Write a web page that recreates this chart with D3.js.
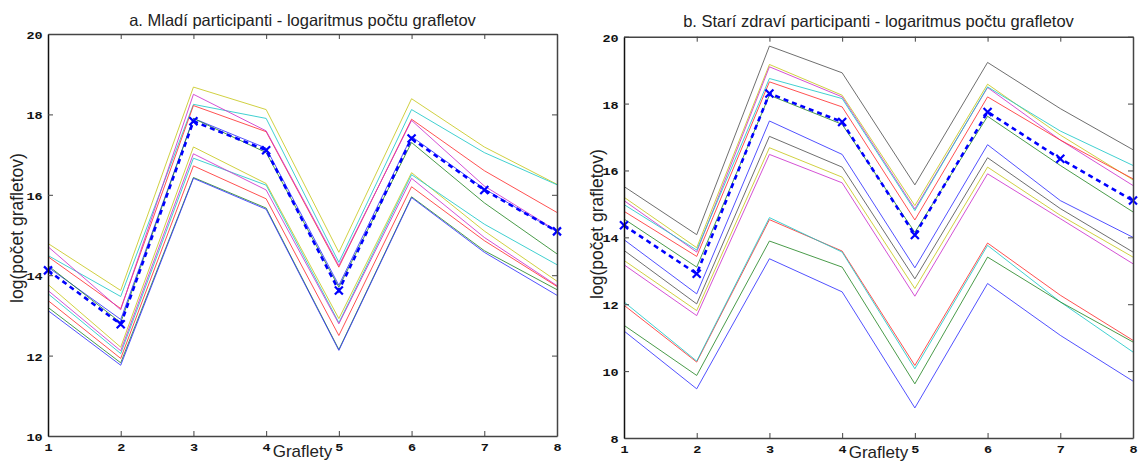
<!DOCTYPE html>
<html>
<head>
<meta charset="utf-8">
<script src="https://cdn.jsdelivr.net/npm/d3@7"></script>
<style>
  body { margin: 0; background: #fff; }
  svg { display: block; }
  .tick text { font-family: 'Liberation Mono', 'DejaVu Sans Mono', monospace; font-size: 10px; font-weight: bold; fill: #111; }
  .ttl, .lab { font-family: 'Liberation Sans', Arial, sans-serif; fill: #222; }
</style>
</head>
<body>
<svg id="chart" width="1138" height="462"></svg>
<script>
// graflet index on x axis
const graflets = [1, 2, 3, 4, 5, 6, 7, 8];

// a. young participants
const youngYellowHi  = [14.79, 13.62, 18.68, 18.12, 14.57, 18.39, 17.19, 16.26];
const youngCyanHi    = [14.49, 13.47, 18.25, 17.90, 14.32, 18.12, 17.05, 16.25];
const youngRedHi     = [14.46, 13.17, 18.22, 17.57, 14.20, 17.88, 16.60, 15.56];
const youngMagentaHi = [14.71, 13.14, 18.50, 17.59, 14.24, 17.85, 16.22, 15.10];
const youngBlueMid   = [14.20, 12.90, 17.90, 17.16, 13.75, 17.45, 16.15, 15.08];
const youngGreenMid  = [14.24, 12.82, 17.90, 17.05, 13.70, 17.30, 15.80, 14.53];
const youngYellowLo  = [13.77, 12.21, 17.19, 16.28, 12.92, 16.55, 15.10, 13.85];
const youngCyanLo    = [13.54, 12.05, 16.91, 16.24, 12.82, 16.50, 15.27, 14.26];
const youngMagentaLo = [13.62, 12.12, 17.02, 16.12, 12.79, 16.41, 14.94, 13.74];
const youngRedLo     = [13.37, 11.93, 16.72, 15.90, 12.50, 16.20, 14.86, 13.72];
const youngGreenLo   = [13.20, 11.82, 16.43, 15.67, 12.15, 15.95, 14.61, 13.64];
const youngBlueLo    = [13.12, 11.76, 16.41, 15.64, 12.13, 15.93, 14.57, 13.50];
const youngMean      = [14.12, 12.78, 17.83, 17.11, 13.62, 17.40, 16.12, 15.09];

// b. older healthy participants
const oldBlackTop    = [15.52, 14.08, 19.72, 18.92, 15.57, 19.23, 17.85, 16.62];
const oldYellowHi    = [15.20, 13.69, 19.17, 18.25, 14.95, 18.58, 17.06, 15.72];
const oldMagentaHi   = [15.10, 13.56, 19.10, 18.20, 14.85, 18.48, 16.91, 15.55];
const oldCyanHi      = [14.98, 13.62, 18.75, 18.15, 14.80, 18.50, 17.18, 16.15];
const oldRedHi       = [14.78, 13.43, 18.65, 17.90, 14.52, 18.20, 16.91, 15.75];
const oldGreenHi     = [14.55, 13.11, 18.25, 17.38, 14.15, 17.62, 16.15, 14.76];
const oldBlueMid     = [13.93, 12.31, 17.48, 16.48, 13.09, 16.77, 15.10, 14.00];
const oldBlackMid    = [13.61, 12.01, 17.02, 16.10, 12.76, 16.38, 14.86, 13.56];
const oldYellowMid   = [13.31, 11.81, 16.68, 15.80, 12.47, 16.10, 14.66, 13.41];
const oldMagentaMid  = [13.18, 11.66, 16.48, 15.63, 12.24, 15.90, 14.56, 13.21];
const oldRedLo       = [11.97, 10.27, 14.53, 13.59, 10.17, 13.83, 12.27, 10.92];
const oldCyanLo      = [12.07, 10.30, 14.59, 13.56, 10.07, 13.76, 12.07, 10.57];
const oldGreenLo     = [11.37, 9.87, 13.89, 13.11, 9.62, 13.41, 12.07, 10.87];
const oldBlueLo      = [11.20, 9.47, 13.36, 12.37, 8.90, 12.62, 11.07, 9.70];
const oldMean        = [14.36, 12.91, 18.30, 17.45, 14.07, 17.75, 16.35, 15.10];

const yTicksA = [10, 12, 14, 16, 18, 20];
const yTicksB = [8, 10, 12, 14, 16, 18, 20];

const titleA = 'a. Mladí participanti - logaritmus počtu grafletov';
const titleB = 'b. Starí zdraví participanti - logaritmus počtu grafletov';
const xLabel = 'Graflety';
const yLabel = 'log(počet grafletov)';

const C = { b: '#3333ff', g: '#2a8a2a', r: '#ff3333', c: '#20c8c8', m: '#cc33cc', y: '#c8c820', k: '#555555' };

const panelA = {
  x0: 48, x1: 557, yTop: 34, yBot: 436, domain: [10, 20], ticks: yTicksA,
  title: titleA, titleY: 25.5, ylabX: 17, ylabY: 228, xlabY: 457,
  lines: [
    [youngYellowHi, C.y], [youngCyanHi, C.c], [youngRedHi, C.r], [youngMagentaHi, C.m],
    [youngBlueMid, C.b], [youngGreenMid, C.g],
    [youngYellowLo, C.y], [youngCyanLo, C.c], [youngMagentaLo, C.m], [youngRedLo, C.r],
    [youngGreenLo, C.g], [youngBlueLo, C.b]
  ],
  mean: youngMean
};

const panelB = {
  x0: 624, x1: 1133, yTop: 36.7, yBot: 438, domain: [8, 20], ticks: yTicksB,
  title: titleB, titleY: 27, ylabX: 597, ylabY: 224, xlabY: 458,
  lines: [
    [oldBlackTop, C.k], [oldYellowHi, C.y], [oldMagentaHi, C.m], [oldCyanHi, C.c],
    [oldRedHi, C.r], [oldGreenHi, C.g],
    [oldBlueMid, C.b], [oldBlackMid, C.k], [oldYellowMid, C.y], [oldMagentaMid, C.m],
    [oldRedLo, C.r], [oldCyanLo, C.c], [oldGreenLo, C.g], [oldBlueLo, C.b]
  ],
  mean: oldMean
};

const svg = d3.select('#chart');
const fmt = d3.format('d');

function drawPanel(p) {
  const x = d3.scaleLinear().domain([1, 8]).range([p.x0, p.x1]);
  const y = d3.scaleLinear().domain(p.domain).range([p.yBot, p.yTop]);
  const g = svg.append('g');

  const line = d3.line()
    .x((d, i) => x(graflets[i]))
    .y(d => y(d));

  // thin participant lines
  g.append('g').selectAll('path')
    .data(p.lines)
    .join('path')
    .attr('d', d => line(d[0]))
    .attr('fill', 'none')
    .attr('stroke', d => d[1])
    .attr('stroke-width', 1)
    .attr('stroke-opacity', 0.85);

  // mean line, dashed with x markers
  g.append('path')
    .attr('d', line(p.mean))
    .attr('fill', 'none')
    .attr('stroke', '#0000ff')
    .attr('stroke-width', 2.6)
    .attr('stroke-dasharray', '5,4');

  const s = 4;
  g.append('g').selectAll('path')
    .data(p.mean)
    .join('path')
    .attr('d', (d, i) => {
      const cx = x(graflets[i]), cy = y(d);
      return `M${cx - s},${cy - s}L${cx + s},${cy + s}M${cx - s},${cy + s}L${cx + s},${cy - s}`;
    })
    .attr('stroke', '#0000ff')
    .attr('stroke-width', 2.2);

  // axes (ticks point inward)
  const bottom = g.append('g')
    .attr('transform', `translate(0,${p.yBot})`)
    .call(d3.axisBottom(x).tickValues(graflets).tickFormat(fmt).tickSizeInner(-5).tickSizeOuter(0).tickPadding(10));
  bottom.selectAll('text').attr('transform', 'scale(1.35,1)').attr('dy', '0.55em');

  g.append('g')
    .attr('transform', `translate(0,${p.yTop})`)
    .call(d3.axisTop(x).tickValues(graflets).tickSizeInner(-5).tickSizeOuter(0).tickFormat(''));

  const left = g.append('g')
    .attr('transform', `translate(${p.x0},0)`)
    .call(d3.axisLeft(y).tickValues(p.ticks).tickFormat(fmt).tickSizeInner(-5).tickSizeOuter(0).tickPadding(4));
  left.selectAll('text').attr('transform', 'scale(1.35,1)').attr('dy', '0.45em');

  g.append('g')
    .attr('transform', `translate(${p.x1},0)`)
    .call(d3.axisRight(y).tickValues(p.ticks).tickSizeInner(-5).tickSizeOuter(0).tickFormat(''));

  g.selectAll('.domain').attr('stroke', '#444').attr('stroke-width', 1.5);
  g.selectAll('.tick line').attr('stroke', '#444');
  left.select('.domain').attr('stroke', '#111');

  // texts
  svg.append('text').attr('class', 'ttl')
    .attr('x', (p.x0 + p.x1) / 2).attr('y', p.titleY)
    .attr('text-anchor', 'middle').attr('font-size', 16.5)
    .text(p.title);

  svg.append('text').attr('class', 'lab')
    .attr('x', (p.x0 + p.x1) / 2).attr('y', p.xlabY)
    .attr('text-anchor', 'middle').attr('font-size', 17)
    .text(xLabel);

  svg.append('text').attr('class', 'lab')
    .attr('transform', `translate(${p.ylabX},${p.ylabY}) rotate(-90)`)
    .attr('text-anchor', 'middle').attr('dy', '0.35em').attr('font-size', 17.5)
    .text(yLabel);
}

drawPanel(panelA);
drawPanel(panelB);
</script>
</body>
</html>
